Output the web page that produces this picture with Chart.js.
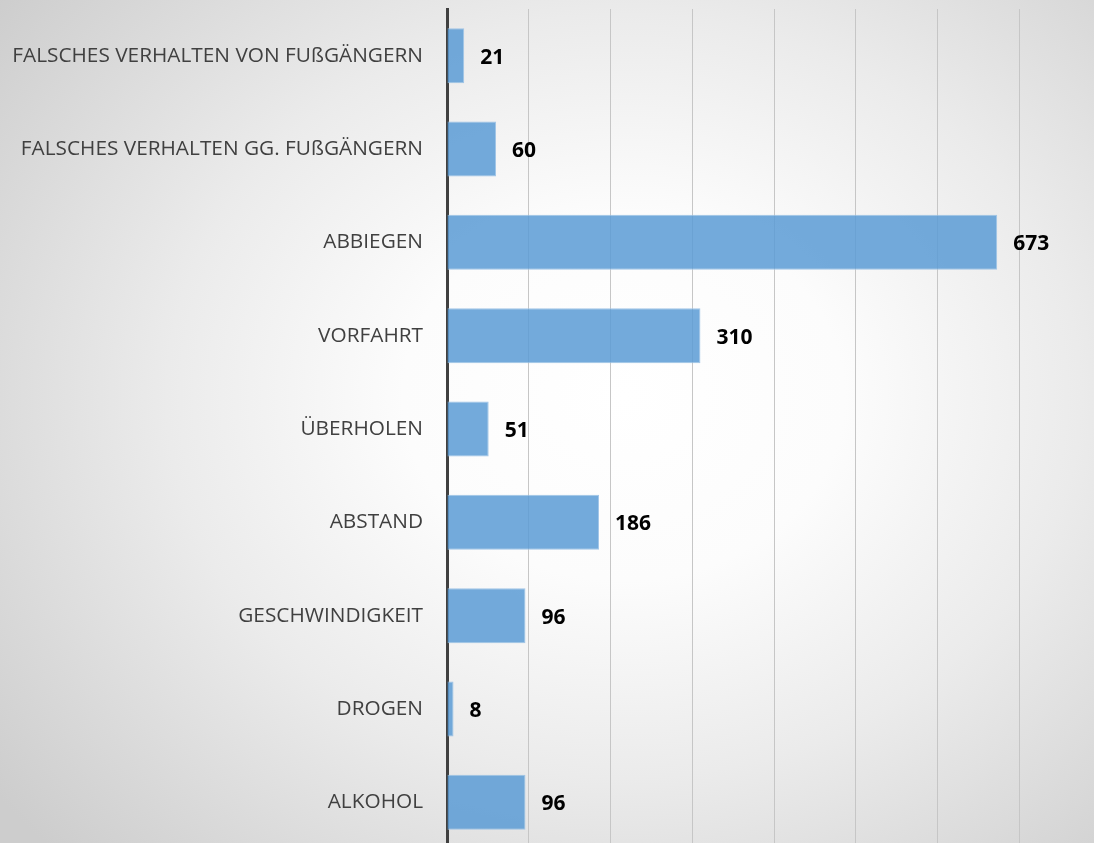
<!DOCTYPE html>
<html><head><meta charset="utf-8">
<script src="https://cdn.jsdelivr.net/npm/chart.js@4/dist/chart.umd.min.js"></script>
<style>
html,body{margin:0;padding:0;width:1094px;height:843px;overflow:hidden;}
body{background:radial-gradient(ellipse 72% 78% at 57% 47%, #ffffff 0%, #fcfcfc 28%, #ebebeb 58%, #cdcdcd 100%);}
#wrap{position:absolute;left:0;top:0;width:1101px;height:860px;}
</style></head>
<body><div id="wrap"><canvas id="c" width="1101" height="860"></canvas></div>
<script>
const categories = ["FALSCHES VERHALTEN VON FUßGÄNGERN","FALSCHES VERHALTEN GG. FUßGÄNGERN","ABBIEGEN","VORFAHRT","ÜBERHOLEN","ABSTAND","GESCHWINDIGKEIT","DROGEN","ALKOHOL"];
const values = [21,60,673,310,51,186,96,8,96];
const axisMax = 800;
const axisStep = 100;

const labelPlugin = {
  id:'valueLabels',
  afterDatasetsDraw(chart){
    const ctx = chart.ctx;
    const meta = chart.getDatasetMeta(0);
    ctx.save();
    ctx.font = 'bold 21px "Open Sans", sans-serif';
    ctx.fillStyle = '#000';
    ctx.textBaseline = 'middle';
    ctx.textAlign = 'left';
    meta.data.forEach((bar,i)=>{
      ctx.fillText(String(values[i]), bar.x + 16, bar.y + 2);
    });
    ctx.restore();
  }
};

new Chart(document.getElementById('c'), {
  type:'bar',
  data:{labels:categories, datasets:[{data:values, backgroundColor:'rgba(91,155,213,0.85)', borderColor:'rgba(157,195,230,0.95)', borderWidth:1, barPercentage:0.59, categoryPercentage:1}]},
  options:{
    indexAxis:'y', responsive:false, animation:false,
    layout:{padding:{top:9,bottom:11,left:0,right:0}},
    plugins:{legend:{display:false}, tooltip:{enabled:false}},
    scales:{
      x:{min:0,max:axisMax, display:true,
        ticks:{display:false, stepSize:axisStep},
        grid:{color:'#c6c6c6', lineWidth:1, drawTicks:false},
        border:{display:false},
        afterFit(scale){ scale.paddingLeft=0; scale.paddingRight=0; scale.height=0; }},
      y:{
        grid:{display:false, drawTicks:false},
        border:{display:true, color:'#404040', width:3},
        ticks:{color:'#404040', font:{family:'"Open Sans", sans-serif', size:20.8}, padding:24},
        afterFit(scale){ scale.width = 447; scale.paddingTop = 0; scale.paddingBottom = 0; }
      }
    }
  },
  plugins:[labelPlugin]
});
</script></body></html>
